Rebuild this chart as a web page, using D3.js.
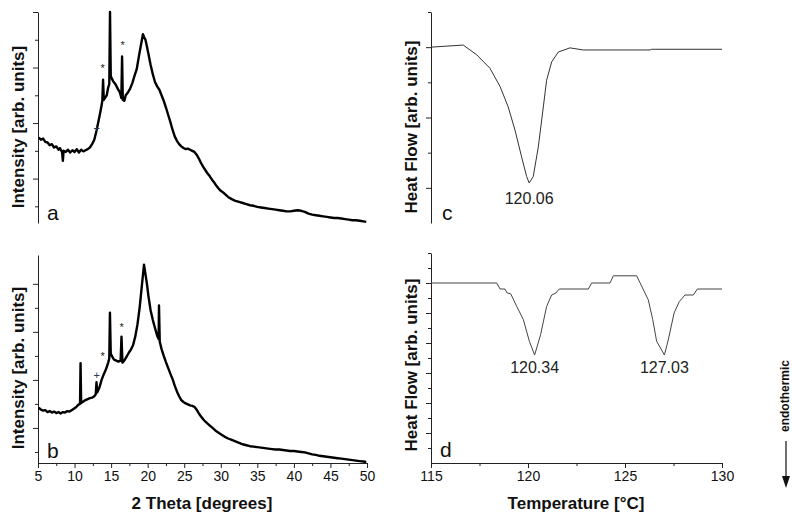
<!DOCTYPE html>
<html><head><meta charset="utf-8">
<script src="https://cdn.jsdelivr.net/npm/d3@7"></script>
<style>body{margin:0;background:#fff}svg{display:block}text{font-family:"Liberation Sans",Arial,sans-serif;fill:#111}</style>
</head><body><svg id="c" width="792" height="512"></svg>
<script>
// ---- XRD pattern a: [2theta, intensity]
const xrdA = [[5.1,1.74],[5.4,1.70],[5.7,1.72],[6.0,1.66],[6.3,1.65],[6.6,1.60],[6.9,1.62],[7.2,1.56],[7.5,1.58],[7.8,1.52],[8.0,1.55],[8.3,1.47],[8.4,1.32],[8.5,1.50],[8.8,1.48],[9.1,1.52],[9.4,1.47],[9.7,1.51],[10.0,1.48],[10.3,1.53],[10.6,1.47],[10.9,1.52],[11.2,1.49],[11.5,1.51],[11.8,1.53],[12.1,1.56],[12.4,1.62],[12.7,1.70],[13.0,1.86],[13.3,2.05],[13.6,2.25],[13.8,2.40],[13.9,2.78],[14.0,2.42],[14.2,2.46],[14.4,2.50],[14.6,2.64],[14.75,2.70],[14.85,4.0],[14.95,2.85],[15.1,2.80],[15.3,2.75],[15.6,2.70],[15.9,2.62],[16.2,2.55],[16.4,2.45],[16.5,3.2],[16.6,2.42],[16.8,2.40],[17.0,2.50],[17.3,2.55],[17.6,2.62],[17.9,2.72],[18.2,2.85],[18.5,2.97],[18.8,3.20],[19.1,3.42],[19.35,3.60],[19.5,3.55],[19.7,3.50],[19.9,3.38],[20.1,3.25],[20.4,3.05],[20.7,2.88],[21.0,2.74],[21.3,2.66],[21.6,2.60],[21.9,2.50],[22.2,2.40],[22.5,2.28],[22.8,2.15],[23.1,2.02],[23.4,1.88],[23.7,1.76],[24.0,1.68],[24.3,1.62],[24.6,1.58],[24.9,1.55],[25.2,1.53],[25.5,1.54],[25.8,1.52],[26.1,1.50],[26.4,1.48],[26.7,1.43],[27.0,1.36],[27.3,1.28],[27.6,1.21],[27.9,1.15],[28.2,1.09],[28.5,1.04],[28.8,0.98],[29.1,0.93],[29.4,0.87],[29.7,0.82],[30.0,0.78],[30.5,0.73],[31.0,0.67],[31.5,0.63],[32.0,0.60],[32.5,0.58],[33.0,0.56],[33.5,0.54],[34.0,0.52],[34.5,0.51],[35.0,0.49],[35.5,0.48],[36.0,0.47],[36.5,0.46],[37.0,0.45],[37.5,0.44],[38.0,0.43],[38.5,0.42],[39.0,0.41],[39.5,0.41],[40.0,0.42],[40.5,0.43],[41.0,0.42],[41.5,0.40],[42.0,0.37],[42.5,0.35],[43.0,0.34],[43.5,0.33],[44.0,0.32],[44.5,0.31],[45.0,0.30],[45.5,0.29],[46.0,0.29],[46.5,0.28],[47.0,0.27],[47.5,0.26],[48.0,0.25],[48.5,0.25],[49.0,0.24],[49.5,0.23],[49.9,0.22]];
// ---- XRD pattern b
const xrdB = [[5.1,1.42],[5.4,1.38],[5.7,1.36],[6.0,1.37],[6.3,1.33],[6.6,1.35],[6.9,1.32],[7.2,1.34],[7.5,1.31],[7.8,1.33],[8.1,1.30],[8.4,1.33],[8.7,1.32],[9.0,1.35],[9.3,1.34],[9.6,1.37],[9.9,1.40],[10.2,1.43],[10.5,1.48],[10.75,1.50],[10.82,2.35],[10.9,1.52],[11.2,1.55],[11.5,1.58],[11.8,1.60],[12.1,1.62],[12.4,1.63],[12.7,1.66],[12.9,1.70],[13.0,1.95],[13.1,1.74],[13.4,1.84],[13.7,2.0],[14.0,2.12],[14.3,2.22],[14.6,2.36],[14.75,2.45],[14.84,3.40],[14.95,2.55],[15.1,2.50],[15.4,2.42],[15.7,2.40],[16.0,2.38],[16.3,2.40],[16.42,2.90],[16.55,2.36],[16.8,2.40],[17.1,2.48],[17.4,2.56],[17.7,2.63],[18.0,2.72],[18.3,2.90],[18.6,3.15],[18.9,3.50],[19.2,3.95],[19.5,4.40],[19.7,4.20],[19.9,4.00],[20.1,3.75],[20.4,3.45],[20.7,3.25],[21.0,3.08],[21.3,2.92],[21.5,2.85],[21.55,3.55],[21.65,2.80],[21.9,2.64],[22.2,2.50],[22.5,2.37],[22.8,2.25],[23.1,2.13],[23.4,2.02],[23.7,1.88],[24.0,1.76],[24.3,1.66],[24.6,1.58],[24.9,1.54],[25.2,1.51],[25.5,1.49],[25.8,1.47],[26.1,1.46],[26.4,1.44],[26.7,1.38],[27.0,1.30],[27.3,1.24],[27.6,1.18],[27.9,1.13],[28.2,1.09],[28.5,1.05],[28.8,1.01],[29.1,0.97],[29.4,0.93],[29.7,0.90],[30.0,0.87],[30.5,0.82],[31.0,0.78],[31.5,0.75],[32.0,0.72],[32.5,0.69],[33.0,0.66],[33.5,0.64],[34.0,0.62],[34.5,0.61],[35.0,0.60],[35.5,0.59],[36.0,0.58],[36.5,0.57],[37.0,0.56],[37.5,0.55],[38.0,0.55],[38.5,0.54],[39.0,0.53],[39.5,0.52],[40.0,0.52],[40.5,0.51],[41.0,0.50],[41.5,0.49],[42.0,0.47],[42.5,0.45],[43.0,0.44],[43.5,0.42],[44.0,0.41],[44.5,0.40],[45.0,0.39],[45.5,0.38],[46.0,0.37],[46.5,0.36],[47.0,0.35],[47.5,0.34],[48.0,0.33],[48.5,0.32],[49.0,0.31],[49.5,0.30],[49.9,0.29]];
// ---- DSC c: [temperature, heat flow]
const dscC = [[115,0.0],[116.66,0.03],[117.36,-0.11],[118.04,-0.30],[118.56,-0.56],[118.98,-0.85],[119.33,-1.18],[119.67,-1.56],[119.93,-1.84],[120.06,-1.93],[120.27,-1.84],[120.53,-1.42],[120.79,-0.85],[120.96,-0.47],[121.22,-0.21],[121.56,-0.07],[122.16,-0.01],[122.85,-0.04],[126.29,-0.04],[126.37,-0.03],[130,-0.03]];
// ---- DSC d
const dscD = [[115,0],[118.39,0],[118.56,-0.1],[118.81,-0.1],[118.93,-0.167],[119.11,-0.18],[119.42,-0.39],[119.76,-0.61],[120.07,-0.97],[120.34,-1.2],[120.65,-0.86],[120.96,-0.39],[121.22,-0.2],[121.44,-0.167],[121.61,-0.1],[123.11,-0.1],[123.28,0],[124.23,0],[124.40,0.12],[125.60,0.12],[126.20,-0.28],[126.43,-0.61],[126.63,-0.97],[127.03,-1.2],[127.23,-0.95],[127.53,-0.5],[127.80,-0.31],[128.09,-0.2],[128.52,-0.2],[128.73,-0.1],[130,-0.1]];
// markers on XRD patterns: [2theta, y, symbol]
const marksA = [[13.03,1.91,"+"],[13.85,2.99,"*"],[16.58,3.40,"*"]];
const marksB = [[13.03,2.10,"+"],[13.85,2.50,"*"],[16.45,3.10,"*"]];
const peaksC = [[120.06,"120.06"]];
const peaksD = [[120.34,"120.34"],[127.03,"127.03"]];
const xrdTicks = [5,10,15,20,25,30,35,40,45,50];
const dscTicks = [115,120,125,130];

const svg = d3.select("#c");
const xA = d3.scaleLinear([5,50],[38,367]);
const yA = d3.scaleLinear([0.2,4],[223,12]);
const yB = d3.scaleLinear([0.27,4.6],[463,255]);
const xC = d3.scaleLinear([115,130],[431,722]);
const yC = d3.scaleLinear([-2.5,0.5],[223,12]);
const yD = d3.scaleLinear([-3,0.5],[463,253]);

function yAxis(x, scale, majors, minors){
  const g = svg.append("g").attr("transform",`translate(${x},0)`);
  g.call(d3.axisLeft(scale).tickValues(majors).tickSize(5).tickSizeOuter(0).tickFormat(""));
  const m = svg.append("g").attr("transform",`translate(${x},0)`);
  m.call(d3.axisLeft(scale).tickValues(minors).tickSize(3).tickSizeOuter(0).tickFormat(""));
  m.select(".domain").remove();
  [g,m].forEach(s=>{s.selectAll("path,line").attr("stroke","#222");});
}
function xAxis(y, scale, majors, minors){
  const g = svg.append("g").attr("transform",`translate(0,${y})`);
  g.call(d3.axisBottom(scale).tickValues(majors).tickSize(5).tickSizeOuter(0).tickPadding(3));
  g.selectAll("text").attr("font-size",14).style("font-family","Liberation Sans, Arial").attr("fill","#222");
  const m = svg.append("g").attr("transform",`translate(0,${y})`);
  m.call(d3.axisBottom(scale).tickValues(minors).tickSize(3).tickSizeOuter(0).tickFormat(""));
  m.select(".domain").remove();
  [g,m].forEach(s=>{s.selectAll("path,line").attr("stroke","#222");});
}
yAxis(38,yA,[1,2,3,4],[0.5,1.5,2.5,3.5]);
yAxis(38,yB,[1,2,3,4],[0.5,1.5,2.5,3.5]);
xAxis(463,xA,xrdTicks,xrdTicks.slice(0,-1).map(d=>d+2.5));
yAxis(431,yC,[0,-1,-2],[0.5,-0.5,-1.5]);
yAxis(431,yD,[0,-0.5,-1,-1.5,-2,-2.5],[0.25,-0.25,-0.75,-1.25,-1.75,-2.25,-2.75,0.5]);
xAxis(463,xC,dscTicks,dscTicks.slice(0,-1).map(d=>d+2.5));

function curve(data, xs, ys, w, col){
  svg.append("path").datum(data).attr("fill","none").attr("stroke",col).attr("stroke-width",w)
    .attr("stroke-linejoin","round").attr("d",d3.line().x(d=>xs(d[0])).y(d=>ys(d[1])));
}
curve(xrdA,xA,yA,2.4,"#000");
curve(xrdB,xA,yB,2.4,"#000");
curve(dscC,xC,yC,1,"#333");
curve(dscD,xC,yD,1,"#444");

function marks(data, ys){
  svg.append("g").selectAll("text").data(data).join("text")
    .attr("x",d=>xA(d[0])).attr("y",d=>ys(d[1])).attr("text-anchor","middle").attr("dy","0.35em")
    .attr("font-size",11).style("fill",d=>d[2]==="+"?"#335":"#222").text(d=>d[2]);
}
marks(marksA,yA); marks(marksB,yB);

function peakLabels(data, ys, yv){
  svg.append("g").selectAll("text").data(data).join("text")
    .attr("x",d=>xC(d[0])).attr("y",ys(yv)).attr("text-anchor","middle")
    .attr("font-size",16).style("fill","#222").text(d=>d[1]);
}
peakLabels(peaksC,yC,-2.23);
peakLabels(peaksD,yD,-1.5);

// panel letters
[["a",47,220],["b",47,458],["c",442,220],["d",440,457]].forEach(p=>{
  svg.append("text").attr("x",p[1]).attr("y",p[2]).attr("font-size",21).text(p[0]);
});
// axis titles
function vTitle(t,x,y){
  svg.append("text").attr("transform",`translate(${x},${y}) rotate(-90)`).attr("text-anchor","middle")
    .attr("dy","0.35em").attr("font-size",17).attr("font-weight","bold").text(t);
}
vTitle("Intensity [arb. units]",18,127);
vTitle("Intensity [arb. units]",18,368);
vTitle("Heat Flow [arb. units]",411,127);
vTitle("Heat Flow [arb. units]",411,365);
svg.append("text").attr("x",202).attr("y",509).attr("text-anchor","middle").attr("font-size",17).attr("font-weight","bold").text("2 Theta [degrees]");
svg.append("text").attr("x",576).attr("y",509).attr("text-anchor","middle").attr("font-size",17).attr("font-weight","bold").text("Temperature [°C]");
// endothermic arrow
svg.append("text").attr("transform","translate(785,396) rotate(-90)").attr("text-anchor","middle").attr("dy","0.35em")
  .attr("font-size",12).attr("font-weight","bold").text("endothermic");
svg.append("line").attr("x1",786).attr("x2",786).attr("y1",441).attr("y2",478).attr("stroke","#111").attr("stroke-width",1.2);
svg.append("path").attr("d","M782,476 L790,476 L786,488 Z").attr("fill","#111");
</script></body></html>
